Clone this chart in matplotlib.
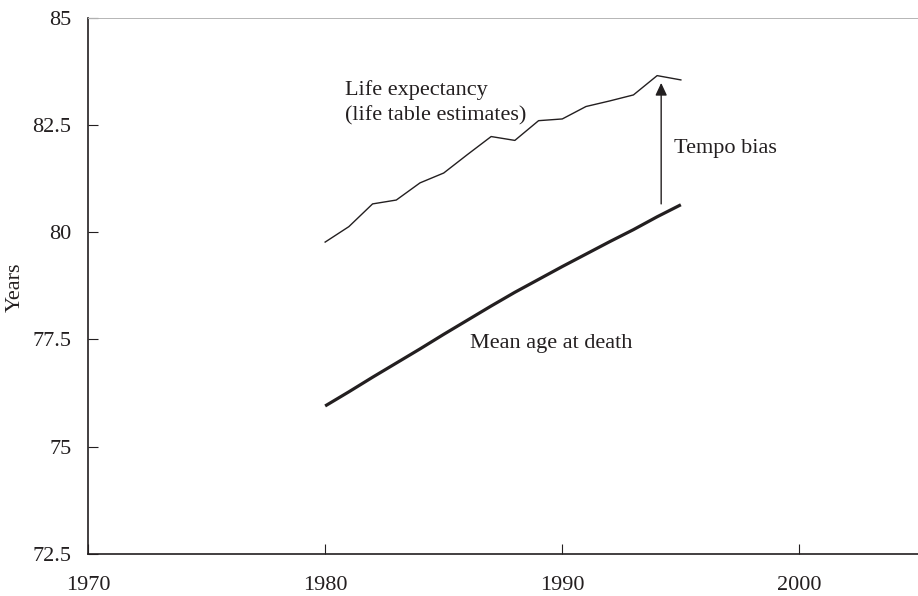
import matplotlib
matplotlib.use("Agg")
import matplotlib.pyplot as plt

# data
years = list(range(1980, 1996))
life_exp = [79.77, 80.13, 80.66, 80.75, 81.15, 81.38, 81.81, 82.23,
            82.14, 82.60, 82.64, 82.93, 83.06, 83.20, 83.65, 83.55]
mean_age = [75.95, 76.28, 76.62, 76.95, 77.28, 77.62, 77.95, 78.28,
            78.60, 78.90, 79.20, 79.49, 79.78, 80.06, 80.36, 80.64]
x_ticks = [1970, 1980, 1990, 2000]
y_ticks = [72.5, 75, 77.5, 80, 82.5, 85]
y_ticklabels = ["72.5", "75", "77.5", "80", "82.5", "85"]
arrow_x = 1994.17
arrow_from = 80.66
arrow_to = 83.48

plt.rcParams['font.family'] = ['Liberation Serif', 'DejaVu Serif']
ink = '#231f20'
fs = 16

fig = plt.figure(figsize=(9.18, 5.96), dpi=100)
ax = fig.add_axes([88 / 918, 1 - 554 / 596, 1 - 88 / 918, (554 - 17.7) / 596])

ax.plot(years, life_exp, color=ink, lw=1.0)
ax.plot(years, mean_age, color=ink, lw=2.3, solid_capstyle='butt')

ax.annotate('', xy=(arrow_x, arrow_to), xytext=(arrow_x, arrow_from),
            arrowprops=dict(arrowstyle='-|>,head_length=0.75,head_width=0.35',
                            color=ink, lw=1.0, shrinkA=0, shrinkB=0))

ax.text(1980.84, 83.02, 'Life expectancy\n(life table estimates)',
        fontsize=fs, color=ink, ha='left', va='center', linespacing=1.4)
ax.text(1994.73, 81.94, 'Tempo bias', fontsize=fs, color=ink,
        ha='left', va='center')
ax.text(1986.09, 77.41, 'Mean age at death', fontsize=fs, color=ink,
        ha='left', va='center')

ax.set_xlim(1970, 2005)
ax.set_ylim(72.5, 85)
ax.set_xticks(x_ticks)
ax.set_yticks(y_ticks)
ax.set_yticklabels(y_ticklabels)
ax.tick_params(direction='in', length=7.5, width=0.8, colors=ink,
               labelsize=fs, labelcolor=ink)
ax.tick_params(axis='x', pad=16)
ax.tick_params(axis='y', pad=12)

for s in ['left', 'bottom']:
    ax.spines[s].set_linewidth(1.2)
    ax.spines[s].set_color(ink)
ax.spines['right'].set_visible(False)
ax.spines['top'].set_color('#b5b5b5')
ax.spines['top'].set_linewidth(0.7)

fig.text(15 / 918, 1 - 287 / 596, 'Years', rotation=90, fontsize=fs,
         color=ink, ha='center', va='center')

fig.savefig('out.png', dpi=100)
